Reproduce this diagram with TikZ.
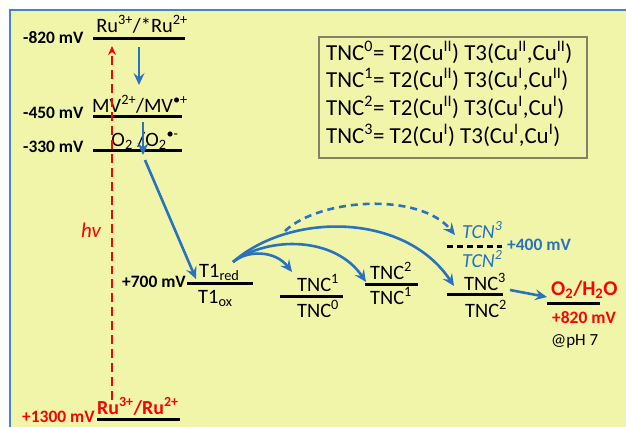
\documentclass[tikz,border=0pt]{standalone}
\usepackage{fontspec}
\setmainfont{Carlito}
\usetikzlibrary{arrows.meta}
\definecolor{bgyellow}{RGB}{240,245,170}
\definecolor{frameblue}{RGB}{70,130,210}
\definecolor{arrblue}{RGB}{40,114,190}
\definecolor{boxgray}{RGB}{130,130,100}
\definecolor{myred}{RGB}{255,0,0}
\tikzset{
  lvl/.style={line width=3pt,black},
  lbl/.style={font=\fontsize{17.5}{17.5}\selectfont\bfseries,inner sep=0pt},
  txt/.style={font=\fontsize{20.5}{20.5}\selectfont,inner sep=0pt},
  boxtxt/.style={font=\fontsize{23}{23}\selectfont,inner sep=0pt,anchor=base west},
  barr/.style={arrblue,line width=2.6pt,-{Stealth[length=12pt,width=11pt,inset=4.5pt]}},
}
\begin{document}
\begin{tikzpicture}[x=1bp,y=-1bp]
\useasboundingbox (0,0) rectangle (626,426);
\fill[white] (0,0) rectangle (626,426);
\fill[bgyellow] (10,10) rectangle (627,427);
\draw[frameblue,line width=1.8pt] (10,427) -- (10,10) -- (627,10);

% legend box
\draw[boxgray,line width=1.3pt] (319,37) rectangle (587,158);
\node[boxtxt] (b1) at (326,60) {TNC\textsuperscript{0}= T2(Cu\textsuperscript{II}) T3(Cu\textsuperscript{II},Cu\textsuperscript{II})};
\node[boxtxt] (b2) at (326,87) {TNC\textsuperscript{1}= T2(Cu\textsuperscript{II}) T3(Cu\textsuperscript{I},Cu\textsuperscript{II})};
\node[boxtxt] (b3) at (326,115) {TNC\textsuperscript{2}= T2(Cu\textsuperscript{II}) T3(Cu\textsuperscript{I},Cu\textsuperscript{I})};
\node[boxtxt] (b4) at (326,143) {TNC\textsuperscript{3}= T2(Cu\textsuperscript{I}) T3(Cu\textsuperscript{I},Cu\textsuperscript{I})};

% left levels
\draw[lvl] (93,38) coordinate (l1a) -- (185,38) coordinate (l1b);
\node[txt,anchor=base] (rustar) at (142,32) {Ru\textsuperscript{3+}/*Ru\textsuperscript{2+}};
\node[lbl,anchor=base west] (m820) at (23,43) {-820 mV};

\draw[lvl] (93,116) coordinate (l2a) -- (182,116) coordinate (l2b);
\node[txt,anchor=base] (mv) at (140,112) {MV\textsuperscript{2+}/MV\textsuperscript{\textbullet+}};
\node[lbl,anchor=base west] (m450) at (23,118) {-450 mV};

\draw[lvl] (93,150) coordinate (l3a) -- (182,150) coordinate (l3b);
\node[txt,anchor=base] (o2) at (145,146) {O\textsubscript{2} /O\textsubscript{2}\textsuperscript{\textbullet-}};
\node[lbl,anchor=base west] (m330) at (23,152) {-330 mV};

\draw[lvl] (97,419) coordinate (l4a) -- (180,419) coordinate (l4b);
\node[txt,anchor=base west,myred,font=\fontsize{20}{20}\selectfont\bfseries] (ru) at (97,414) {Ru\textsuperscript{3+}/Ru\textsuperscript{2+}};
\node[lbl,anchor=base west,myred] (p1300) at (22,422) {+1300 mV};

% T1
\draw[lvl] (187,283) coordinate (t1a) -- (253,283) coordinate (t1b);
\node[txt,anchor=base west] (t1red) at (199,277) {T1\textsubscript{red}};
\node[txt,anchor=base west] (t1ox) at (198,303) {T1\textsubscript{ox}};
\node[lbl,anchor=base east] (p700) at (186,287) {+700 mV};

% TNC1/TNC0
\draw[lvl] (280,296) coordinate (n1a) -- (343,296) coordinate (n1b);
\node[txt,anchor=base west] (tnc1a) at (297,291) {TNC\textsuperscript{1}};
\node[txt,anchor=base west] (tnc0) at (297,317) {TNC\textsuperscript{0}};

% TNC2/TNC1
\draw[lvl] (365,284) coordinate (n2a) -- (418,284) coordinate (n2b);
\node[txt,anchor=base west] (tnc2a) at (370,279) {TNC\textsuperscript{2}};
\node[txt,anchor=base west] (tnc1b) at (370,304) {TNC\textsuperscript{1}};

% TNC3/TNC2
\draw[lvl] (447,294) coordinate (n3a) -- (503,294) coordinate (n3b);
\node[txt,anchor=base west] (tnc3) at (464,290) {TNC\textsuperscript{3}};
\node[txt,anchor=base west] (tnc2b) at (465,317) {TNC\textsuperscript{2}};

% TCN dashed level
\draw[lvl,dash pattern=on 6.5pt off 3.5pt] (447,246) coordinate (d1a) -- (502,246) coordinate (d1b);
\node[txt,anchor=base west,arrblue,font=\fontsize{20}{20}\selectfont\itshape] (tcn3) at (462,238) {TCN\textsuperscript{3}};
\node[txt,anchor=base west,arrblue,font=\fontsize{20}{20}\selectfont\itshape] (tcn2) at (462,267) {TCN\textsuperscript{2}};
\node[lbl,anchor=base west,arrblue] (p400) at (507,250) {+400 mV};

% O2/H2O
\draw[lvl] (547,303) coordinate (o2a) -- (600,303) coordinate (o2b);
\node[anchor=base west,inner sep=0pt,myred,font=\fontsize{21}{21}\selectfont\bfseries] (o2h2o) at (551,295) {O\textsubscript{2}/H\textsubscript{2}O};
\node[lbl,anchor=base west,myred] (p820) at (552,323) {+820 mV};
\node[txt,anchor=base west,font=\fontsize{17}{17}\selectfont] (ph7) at (551,345) {@pH 7};

% hv
\node[anchor=base west,inner sep=0pt,myred,font=\fontsize{21}{21}\selectfont\itshape] (hv) at (81,237) {hv};

% arrow coordinates
\coordinate (a1s) at (139,47);
\coordinate (a1e) at (139,85);
\coordinate (a2s) at (143,122);
\coordinate (a2e) at (143,155);
\coordinate (a3s) at (145,160);
\coordinate (a3e) at (196,279);
\coordinate (src) at (233,262);
\coordinate (c1e) at (292,272);
\coordinate (c2e) at (366,282);
\coordinate (c3e) at (454,286);
\coordinate (dds) at (285,231);
\coordinate (dde) at (455,235);
\coordinate (o2s) at (510,290);
\coordinate (o2e) at (547,297);
\coordinate (rds) at (112,400);
\coordinate (rde) at (112,46);

% red dashed hv arrow
\draw[myred,line width=2pt,dash pattern=on 9pt off 5pt,-{Stealth[length=9pt,width=8pt,inset=3pt]}] (rds) -- (rde);

% blue arrows
\draw[barr] (a1s) -- (a1e);
\draw[barr] (a2s) -- (a2e);
\draw[barr] (a3s) -- (a3e);
\draw[barr] (src) .. controls (247,250) and (275,250) .. (c1e);
\draw[barr] (src) .. controls (268,236) and (335,236) .. (c2e);
\draw[barr] (src) .. controls (290,212) and (405,212) .. (c3e);
\draw[barr,dash pattern=on 7pt off 5pt] (dds) .. controls (320,198) and (420,192) .. (dde);
\draw[barr] (o2s) -- (o2e);
\end{tikzpicture}
\end{document}
